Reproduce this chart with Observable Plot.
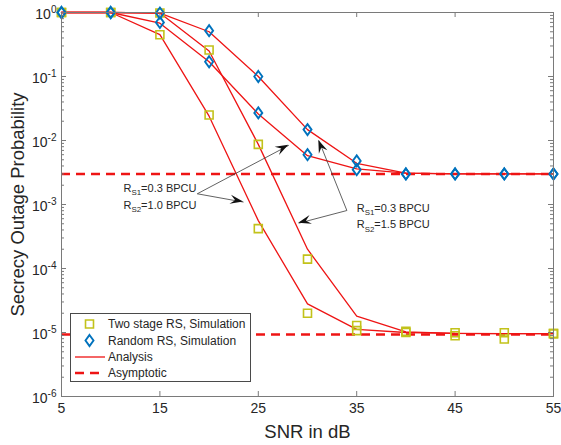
<!DOCTYPE html>
<html><head><meta charset="utf-8">
<script src="https://cdn.jsdelivr.net/npm/d3@7"></script>
<script src="https://cdn.jsdelivr.net/npm/@observablehq/plot@0.6"></script>
<style>html,body{margin:0;padding:0;background:#fff;} #chart{width:561px;height:445px;}</style>
</head><body><div id="chart"></div>
<script>
// ---- data ----
const snr = [5, 10, 15, 20, 25, 30, 35, 40, 45, 50, 55];
// analysis curves
const anaRandom15   = [1, 1, 0.98, 0.5, 0.1, 0.0148, 0.0044, 0.0031, 0.003, 0.003, 0.003];
const anaRandom10   = [1, 1, 0.68, 0.17, 0.026, 0.0058, 0.0036, 0.0031, 0.003, 0.003, 0.003];
const anaTwoStage15 = [1, 1, 0.98, 0.25, 0.0087, 2.0e-4, 1.8e-5, 1.02e-5, 9.7e-6, 9.6e-6, 9.6e-6];
const anaTwoStage10 = [1, 1, 0.45, 0.024, 5.6e-4, 2.8e-5, 1.12e-5, 1.0e-5, 9.7e-6, 9.6e-6, 9.6e-6];
// simulation points
const simRandom15   = [1, 1, 0.98, 0.52, 0.1, 0.0148, 0.0048, 0.003, 0.003, 0.003, 0.003];
const simRandom10   = [1, 1, 0.7, 0.17, 0.027, 0.006, 0.0035, 0.003, 0.003, 0.003, 0.003];
const simTwoStage15 = [1, 1, 0.98, 0.26, 0.0087, 1.4e-4, 1.29e-5, 1.04e-5, 9.9e-6, 9.9e-6, 9.6e-6];
const simTwoStage10 = [1, 1, 0.45, 0.025, 4.2e-4, 2.0e-5, 1.07e-5, 1.0e-5, 8.9e-6, 7.9e-6, 9.6e-6];
// asymptotes
const asymptotes = [3.0e-3, 9.3e-6];
// axes
const xTicks = [5, 15, 25, 35, 45, 55];
const yTicks = [1e-6, 1e-5, 1e-4, 1e-3, 1e-2, 1e-1, 1];
const yTickLabels = ["10^{-6}", "10^{-5}", "10^{-4}", "10^{-3}", "10^{-2}", "10^{-1}", "10^{0}"];
const xLabel = "SNR in dB";
const yLabel = "Secrecy Outage Probability";
// annotations
const annText = ["R_{S1}=0.3 BPCU", "R_{S2}=1.0 BPCU", "R_{S1}=0.3 BPCU", "R_{S2}=1.5 BPCU"];
const annX = [11.3, 11.3, 35.0, 35.0];
const annY = [1.78e-3, 9.8e-4, 8.8e-4, 4.8e-4];
const arrowX1 = [18.8, 18.8, 34.0, 34.0];
const arrowY1 = [1.47e-3, 1.47e-3, 8.05e-4, 8.05e-4];
const arrowX2 = [28.1, 23.5, 31.15, 29.1];
const arrowY2 = [8.4e-3, 1.09e-3, 1.0e-2, 5.1e-4];
// legend
const legendLabels = ["Two stage RS, Simulation", "Random RS, Simulation", "Analysis", "Asymptotic"];

// ---- styling ----
const RED = "#ee1414", OLIVE = "#c2c21a", BLUE = "#0072BD", AX = "#7a7a7a", TXT = "#262626";
const FONT = "'Liberation Sans', Arial, Helvetica, sans-serif";
const W = 561, H = 445, ML = 61, MR = 8, MT = 12, MB = 49;
const PW = W - ML - MR, PH = H - MT - MB;

const toRows = (vals, name) => vals.map((p, i) => ({snr: snr[i], p, series: name}));
const anaRows = [
  ...toRows(anaRandom15, "r15"), ...toRows(anaRandom10, "r10"),
  ...toRows(anaTwoStage15, "t15"), ...toRows(anaTwoStage10, "t10")
];
const sqRows = [...toRows(simTwoStage15, "t15"), ...toRows(simTwoStage10, "t10")];
const diRows = [...toRows(simRandom15, "r15"), ...toRows(simRandom10, "r10")];
const annRows = annText.map((t, i) => ({t, x: annX[i], y: annY[i]}));
const arrowRows = arrowX1.map((x1, i) => ({x1, y1: arrowY1[i], x2: arrowX2[i], y2: arrowY2[i]}));
const minorTicks = [];
for (const d of yTicks.slice(0, -1)) for (let k = 2; k <= 9; k++) minorTicks.push(k * d);

const diamondSym = {draw(ctx, size) {
  const r = Math.sqrt(size / Math.PI), h = 1.38 * r, w = 1.0 * r;
  ctx.moveTo(0, -h); ctx.lineTo(w, 0); ctx.lineTo(0, h); ctx.lineTo(-w, 0); ctx.closePath();
}};
const squareSym = {draw(ctx, size) {
  const r = Math.sqrt(size / Math.PI), s = 0.95 * r;
  ctx.moveTo(-s, -s); ctx.lineTo(s, -s); ctx.lineTo(s, s); ctx.lineTo(-s, s); ctx.closePath();
}};

const chart = Plot.plot({
  width: W, height: H,
  marginLeft: ML, marginRight: MR, marginTop: MT, marginBottom: MB,
  style: {fontFamily: FONT, fontSize: "14px", color: TXT, background: "white", overflow: "visible"},
  x: {domain: [5, 55]},
  y: {type: "log", domain: [1e-6, 1]},
  marks: [
    Plot.axisX({ticks: xTicks, tickSize: 0, tickPadding: 7, label: null, fontSize: 14, fill: TXT}),
    Plot.axisY({ticks: yTicks, tickSize: 0, tickPadding: 5, label: null, fontSize: 14, fill: TXT, dy: 2,
      tickFormat: d => yTickLabels[yTicks.indexOf(d)]}),
    Plot.ruleY(asymptotes, {y: d => d, stroke: RED, strokeWidth: 2.6, strokeDasharray: "9,6"}),
    Plot.line(anaRows, {x: "snr", y: "p", z: "series", stroke: RED, strokeWidth: 1.3}),
    Plot.dot(sqRows, {x: "snr", y: "p", symbol: squareSym, r: 4.2, stroke: OLIVE, strokeWidth: 1.6, fill: "none"}),
    Plot.dot(diRows, {x: "snr", y: "p", symbol: diamondSym, r: 4, stroke: BLUE, strokeWidth: 1.9, fill: "none"}),
    Plot.link(arrowRows, {x1: "x1", y1: "y1", x2: "x2", y2: "y2", stroke: "#3a3a3a", strokeWidth: 0.8}),
    Plot.text(annRows, {x: "x", y: "y", text: "t", textAnchor: "start", fontSize: 11, fill: TXT}),
    // inward ticks
    Plot.tickX(xTicks, {x: d => d, insetTop: PH - 5, stroke: AX}),
    Plot.tickX(xTicks, {x: d => d, insetBottom: PH - 5, stroke: AX}),
    Plot.tickY(yTicks, {y: d => d, insetRight: PW - 5, stroke: AX}),
    Plot.tickY(yTicks, {y: d => d, insetLeft: PW - 5, stroke: AX}),
    Plot.tickY(minorTicks, {y: d => d, insetRight: PW - 3, stroke: AX}),
    Plot.tickY(minorTicks, {y: d => d, insetLeft: PW - 3, stroke: AX}),
    Plot.frame({stroke: AX, strokeWidth: 1}),
    Plot.text([xLabel], {text: d => d, frameAnchor: "bottom", textAnchor: "middle", lineAnchor: "middle",
      dy: 36, fontSize: 18.5, fill: TXT}),
    Plot.text([yLabel], {text: d => d, frameAnchor: "left", textAnchor: "middle", lineAnchor: "middle",
      dx: -43, rotate: -90, fontSize: 18.5, fill: TXT})
  ]
});
document.getElementById("chart").appendChild(chart);

// rich text: _{sub} and ^{sup}
function rich(t) {
  const s = t.textContent;
  if (!/[_^]\{/.test(s)) return;
  const fs = parseFloat(getComputedStyle(t).fontSize) || 12;
  t.textContent = "";
  const parts = s.split(/([_^]\{[^}]*\})/).filter(p => p);
  let shift = 0;
  for (const p of parts) {
    const ts = document.createElementNS("http://www.w3.org/2000/svg", "tspan");
    let target = 0, txt = p, small = false;
    if (p.startsWith("_{")) { target = 0.3 * fs; txt = p.slice(2, -1); small = true; }
    else if (p.startsWith("^{")) { target = -0.4 * fs; txt = p.slice(2, -1); small = true; }
    const dy = target - shift;
    if (dy) ts.setAttribute("dy", dy.toFixed(2));
    shift = target;
    if (small) ts.setAttribute("font-size", (0.72 * fs).toFixed(2));
    ts.textContent = txt;
    t.appendChild(ts);
  }
}
chart.querySelectorAll("text").forEach(rich);

// filled arrowheads via the chart's scales
const sx = chart.scale("x"), sy = chart.scale("y");
const svg = d3.select(chart);
const heads = svg.append("g").attr("fill", "#111");
for (const a of arrowRows) {
  const x1 = sx.apply(a.x1), y1 = sy.apply(a.y1), x2 = sx.apply(a.x2), y2 = sy.apply(a.y2);
  const len = Math.hypot(x2 - x1, y2 - y1), ux = (x2 - x1) / len, uy = (y2 - y1) / len;
  const nx = -uy, ny = ux, L = 13, Wd = 4.6, N = 8;
  const pts = [[x2, y2], [x2 - L * ux + Wd * nx, y2 - L * uy + Wd * ny], [x2 - N * ux, y2 - N * uy],
               [x2 - L * ux - Wd * nx, y2 - L * uy - Wd * ny]];
  heads.append("path").attr("d", "M" + pts.map(p => p.join(",")).join("L") + "Z");
}

// legend (inside plot, lower left)
const lg = svg.append("g").attr("font-family", FONT).attr("font-size", 12).attr("fill", TXT)
  .attr("text-anchor", "start");
lg.append("rect").attr("x", 70.5).attr("y", 313.5).attr("width", 180).attr("height", 68)
  .attr("fill", "white").attr("stroke", "#4a4a4a").attr("stroke-width", 1);
const rowY = [324, 340.5, 357, 373];
const sq = d3.path(); squareSym.draw(sq, Math.PI * 4.2 * 4.2);
lg.append("path").attr("d", sq.toString()).attr("transform", `translate(89.5,${rowY[0]})`)
  .attr("fill", "none").attr("stroke", OLIVE).attr("stroke-width", 1.6);
const di = d3.path(); diamondSym.draw(di, Math.PI * 16);
lg.append("path").attr("d", di.toString()).attr("transform", `translate(89.5,${rowY[1]})`)
  .attr("fill", "none").attr("stroke", BLUE).attr("stroke-width", 1.9);
lg.append("line").attr("x1", 75).attr("x2", 105).attr("y1", rowY[2]).attr("y2", rowY[2])
  .attr("stroke", RED).attr("stroke-width", 1.3);
lg.append("line").attr("x1", 75).attr("x2", 105).attr("y1", rowY[3]).attr("y2", rowY[3])
  .attr("stroke", RED).attr("stroke-width", 2.6).attr("stroke-dasharray", "9,6");
legendLabels.forEach((t, i) => lg.append("text").attr("x", 108).attr("y", rowY[i]).attr("dy", "0.35em").text(t));
</script>
</body></html>
